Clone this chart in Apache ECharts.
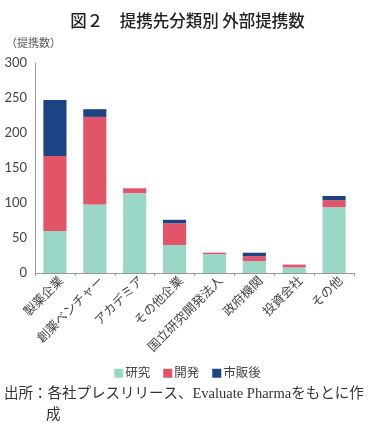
<!DOCTYPE html>
<html>
<head>
<meta charset="utf-8">
<script src="https://cdn.jsdelivr.net/npm/echarts@6/dist/echarts.min.js"></script>
<style>
  html, body { margin: 0; padding: 0; background: #fff; }
  #main { width: 375px; height: 432px; }
</style>
</head>
<body>
<div id="main"></div>
<script>
// 提携先分類
var categories = ['製薬企業', '創薬ベンチャー', 'アカデミア', 'その他企業', '国立研究開発法人', '政府機関', '投資会社', 'その他'];
// 段階別の提携数
var research = [60, 98, 114, 40, 27, 17, 8, 94];
var develop = [107, 125, 7, 31, 2, 7, 4, 10];
var market = [80, 11, 0, 5, 0, 5, 0, 6];
var yTicks = [0, 50, 100, 150, 200, 250, 300];

var jpFont = 'Lato, "Noto Sans CJK JP", sans-serif';

var myChart = echarts.init(document.getElementById('main'));
var option = {
    animation: false,
    textStyle: { fontFamily: jpFont },
    title: {
        text: '図２　提携先分類別 外部提携数',
        left: 'center',
        top: 7,
        textStyle: { fontSize: 16.5, fontWeight: 500, color: '#222', fontFamily: '"Noto Sans CJK JP", sans-serif' }
    },
    legend: {
        data: ['研究', '開発', '市販後'],
        left: 'center',
        top: 362,
        icon: 'rect',
        itemWidth: 9,
        itemHeight: 9,
        itemGap: 13,
        textStyle: { fontSize: 12.5, color: '#444', padding: [0, 0, 0, -3] }
    },
    grid: {
        left: 35,
        right: 21,
        top: 63,
        bottom: 159
    },
    xAxis: {
        type: 'category',
        data: categories,
        axisLine: { lineStyle: { color: '#999' } },
        axisTick: { show: true, length: 3, lineStyle: { color: '#999' } },
        axisLabel: { rotate: 45, fontSize: 12.5, color: '#444', margin: 12, interval: 0, padding: [0, -9, 0, 0] }
    },
    yAxis: {
        type: 'value',
        min: yTicks[0],
        max: yTicks[yTicks.length - 1],
        interval: 50,
        splitLine: { show: false },
        axisLine: { show: true, lineStyle: { color: '#999' } },
        axisTick: { show: false },
        axisLabel: { fontSize: 13, color: '#444', margin: 8 }
    },
    graphic: [
        {
            type: 'text',
            left: 6,
            top: 37,
            style: { text: '（提携数）', fill: '#555', font: '11px "Noto Sans CJK JP"' }
        },
        {
            type: 'text',
            left: 4,
            top: 387,
            style: { text: '出所：各社プレスリリース、Evaluate Pharmaをもとに作', fill: '#333', font: '14.5px "Liberation Serif", "Noto Sans CJK JP"' }
        },
        {
            type: 'text',
            left: 46,
            top: 408,
            style: { text: '成', fill: '#333', font: '14.5px "Liberation Serif", "Noto Sans CJK JP"' }
        }
    ],
    series: [
        {
            name: '研究',
            type: 'bar',
            stack: 'total',
            barWidth: '58%',
            itemStyle: { color: '#9bd7c6' },
            data: research
        },
        {
            name: '開発',
            type: 'bar',
            stack: 'total',
            itemStyle: { color: '#e25468' },
            data: develop
        },
        {
            name: '市販後',
            type: 'bar',
            stack: 'total',
            itemStyle: { color: '#1c4382' },
            data: market
        }
    ]
};
myChart.setOption(option);
</script>
</body>
</html>
